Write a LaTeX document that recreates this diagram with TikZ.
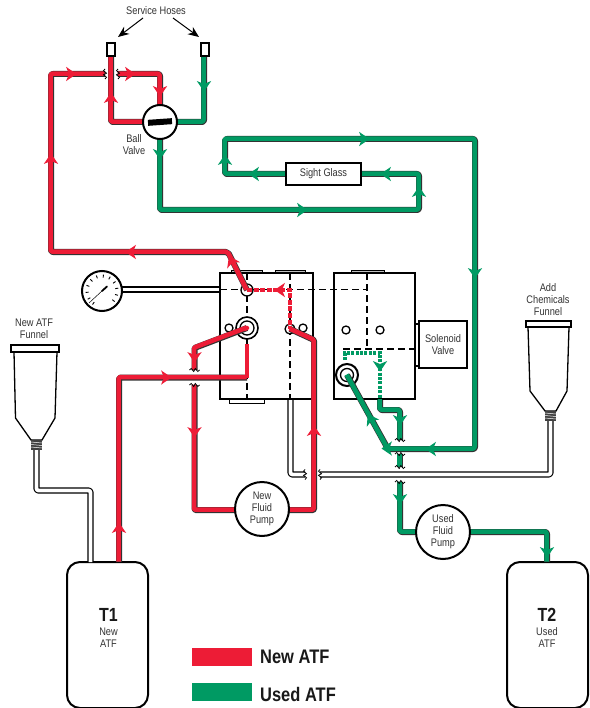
\documentclass[tikz,border=0pt]{standalone}
\usepackage{fontspec}
\setmainfont[FakeStretch=0.84]{Liberation Sans}
\usetikzlibrary{arrows.meta,calc}
\definecolor{newatf}{HTML}{ED1C36}
\definecolor{usedatf}{HTML}{009A63}
\definecolor{labelgray}{HTML}{333333}
\tikzset{
  redoutline/.style={line width=6pt,draw=black!80,line join=round},
  pipeline/.style={line width=4.6pt,line join=round},
  redpipe/.style={pipeline,draw=newatf},
  greenpipe/.style={pipeline,draw=usedatf},
  hoseline/.style={line width=6.2pt,draw=black,line join=round},
  hosefill/.style={line width=3.8pt,draw=white,line join=round},
  thinblack/.style={draw=black,line width=1.3pt},
  heavy/.style={draw=black,line width=2pt,fill=white},
  dashline/.style={draw=black,line width=1.3pt,dash pattern=on 7pt off 4pt},
  reddots/.style={draw=newatf,line width=4pt,dash pattern=on 5pt off 1.6pt},
  greendots/.style={draw=usedatf,line width=3.6pt,dash pattern=on 3pt off 1.4pt},
  lbl/.style={font=\fontsize{11}{12}\selectfont,text=labelgray,align=center,inner sep=0pt},
  tabbox/.style={draw=black,line width=.8pt,fill=black!25},
}
\newcommand{\rpipe}[1]{\draw[redoutline] #1; \draw[redpipe,transform canvas={xshift=-.4pt,yshift=.4pt}] #1;}
\newcommand{\gpipe}[1]{\draw[redoutline] #1; \draw[greenpipe,transform canvas={xshift=-.4pt,yshift=.4pt}] #1;}
\newcommand{\hose}[1]{\draw[hoseline] #1; \draw[hosefill] #1;}
% arrow head: at position, direction (clockwise on the page, 0 = right), colour
\newcommand{\flow}[4]{\fill[#4,shift={(#1,#2)},rotate=-#3] (4.5,0) -- (-6,7.2) -- (-3,0) -- (-6,-7.2) -- cycle;}
% break squiggle across a pipe
\newcommand{\wigh}[2]{\draw[black,line width=.8pt,shift={(#1,#2)}] (-5,0) .. controls (-3.5,-2) and (-3,-2) .. (-2,0) .. controls (-1,2) and (-.5,2) .. (0,0) .. controls (.5,-2) and (1,-2) .. (2,0) .. controls (3,2) and (3.5,2) .. (5,0);}
\newcommand{\wigv}[2]{\draw[black,line width=.8pt,shift={(#1,#2)}] (0,-5) .. controls (-2,-3.5) and (-2,-3) .. (0,-2) .. controls (2,-1) and (2,-.5) .. (0,0) .. controls (-2,.5) and (-2,1) .. (0,2) .. controls (2,3) and (2,3.5) .. (0,5);}
\begin{document}
\begin{tikzpicture}[x=1pt,y=-1pt]
\useasboundingbox (0,0) rectangle (589,708);
% --- tanks, blocks
\node[heavy,rounded corners=13pt,minimum width=81pt,minimum height=146pt,inner sep=0pt] (tankone) at (107.5,635) {};
\node[heavy,rounded corners=13pt,minimum width=81pt,minimum height=146pt,inner sep=0pt] (tanktwo) at (547.5,635) {};
\node[font=\bfseries\fontsize{19}{19}\selectfont,inner sep=0pt,text=black!90] (tonelbl) at (108.5,615) {T1};
\node[lbl] (tonesub) at (108.5,637.5) {New\\ATF};
\node[font=\bfseries\fontsize{19}{19}\selectfont,inner sep=0pt,text=black!90] (ttwolbl) at (547,615) {T2};
\node[lbl] (ttwosub) at (547,637.5) {Used\\ATF};
% tabs
\draw[tabbox] (231,270) rectangle (262,273);
\draw[tabbox] (275,270) rectangle (305,273);
\draw[tabbox,fill=white] (229.5,399) rectangle (264,403);
\draw[tabbox] (351,270) rectangle (384,273);
% hoses (white)
\coordinate (gaugeR) at (122,289.5);
\coordinate (blockL) at (220,289.5);
\coordinate (lfneck) at (36.5,450);
\coordinate (lfbend) at (36.5,490.5);
\coordinate (ltbend) at (90.5,490.5);
\coordinate (ltank) at (90.5,562);
\coordinate (dsv) at (290.5,399);
\coordinate (dsb) at (290.5,474.5);
\coordinate (dse) at (305,474.5);
\coordinate (rfs) at (320,474.5);
\coordinate (rfb) at (550.5,474.5);
\coordinate (rfneck) at (550.5,421);
\hose{(gaugeR) -- (blockL)}
\hose{[rounded corners=2pt] (lfneck) -- (lfbend) -- (ltbend) -- (ltank)}
\hose{[rounded corners=2pt] (dsv) -- (dsb) -- (dse)}
\hose{[rounded corners=2pt] (rfs) -- (rfb) -- (rfneck)}
\wigv{305}{474.5}
\wigv{320}{474.5}
% block 1 and 2
\draw[heavy,line width=2.2pt] (220,273) rectangle (313,399);
\node[inner sep=0pt] (blockone) at (266.5,336) {};
\draw[heavy,line width=2.2pt] (334,273) rectangle (415,399);
\node[inner sep=0pt] (blocktwo) at (374.5,336) {};
% dashed internals
\draw[dashline] (220,289.5) -- (367,289.5);
\draw[dashline] (247,273) -- (247,399);
\draw[dashline] (290,273) -- (290,399);
\draw[dashline] (367,273) -- (367,349);
\draw[dashline] (343,349) -- (415,349);
% small circles
\draw[thinblack,fill=white] (229,328) circle (4);
\draw[thinblack,fill=white] (303,328) circle (4);
\draw[thinblack,fill=white] (346,330) circle (4);
\draw[thinblack,fill=white] (380,330) circle (4);
\draw[thinblack,fill=white] (247,290) circle (6);
\draw[thinblack,fill=white] (290,329) circle (5);
\draw[heavy,line width=1.6pt] (247,328) circle (11);
\draw[thinblack] (247,328) circle (7);
\draw[heavy,line width=2pt] (347,375) circle (11);
\draw[thinblack] (347,375) circle (6.5);
% solenoid
\draw[thinblack,line width=1.6pt,fill=white] (415,324) rectangle (419,366);
\node[heavy,minimum width=48pt,minimum height=47pt,inner sep=0pt,lbl,line width=2pt] (solenoid) at (443,344.5) {Solenoid\\Valve};
% --- named junctions of the red circuit
\coordinate (rcapL) at (111,56);
\coordinate (rcor) at (111,122);
\coordinate (valveTop) at (160,105);
\coordinate (rtopR) at (160,74);
\coordinate (brkR) at (118,74);
\coordinate (brkL) at (105,74);
\coordinate (rtopL) at (51,74);
\coordinate (rlow) at (51,252);
\coordinate (rmid) at (228,252);
\coordinate (portA) at (247,290);
\coordinate (rturn) at (290,290);
\coordinate (portB) at (290,329);
\coordinate (rdiag) at (314,340);
\coordinate (rbot) at (314,510);
\coordinate (lbot) at (194.5,510);
\coordinate (lbrk) at (194.5,385);
\coordinate (ubrk) at (194.5,370);
\coordinate (ubend) at (194.5,348);
\coordinate (portC) at (247,328);
\coordinate (tone) at (119,562);
\coordinate (tonec) at (119,377.5);
\coordinate (tin) at (247,377.5);
\coordinate (tinend) at (247,344);
% red pipes
\rpipe{[rounded corners=2pt] (rcapL) -- (rcor) -- (160,122)}
\rpipe{[rounded corners=2pt] (brkR) -- (rtopR) -- (valveTop)}
\rpipe{[rounded corners=2pt] (brkL) -- (rtopL) -- (rlow) -- (rmid) -- (portA)}
\rpipe{[rounded corners=1pt] (portB) -- (rdiag) -- (rbot) -- (lbot) -- (lbrk)}
\rpipe{[rounded corners=1pt] (portC) -- (ubend) -- (ubrk)}
\rpipe{[rounded corners=2pt] (tone) -- (tonec) -- (tin)}
\draw[newatf,line width=4.4pt] (tin) -- (tinend);
\draw[newatf,line width=4.4pt,line cap=round] (portC) -- ++(-3,1.2);
\draw[reddots] (portA) -- (rturn) -- (portB);
\wigv{105}{74}\wigv{118}{74}
\wigh{194.5}{370}\wigh{194.5}{385}
% --- green circuit junctions
\coordinate (gcap) at (204,56);
\coordinate (gcor) at (204,122);
\coordinate (vbot) at (160,139);
\coordinate (g1) at (160,210);
\coordinate (g2) at (419,210);
\coordinate (g3) at (419,174);
\coordinate (sgl) at (225,174);
\coordinate (g5) at (225,139);
\coordinate (g6) at (475,139);
\coordinate (g7) at (475,449);
\coordinate (g8) at (388,449);
\coordinate (portD) at (347,375);
\coordinate (gd1) at (345,360);
\coordinate (gd2) at (345,353);
\coordinate (gd3) at (380,353);
\coordinate (gd4) at (380,400);
\coordinate (gs1) at (380,410);
\coordinate (gs2) at (400,410);
\coordinate (gs3) at (400,440);
\coordinate (gm1) at (400,454);
\coordinate (gm2) at (400,467);
\coordinate (gl1) at (400,482);
\coordinate (gl2) at (400,532);
\coordinate (gr1) at (547,532);
\coordinate (gr2) at (547,562);
% green pipes
\gpipe{[rounded corners=2pt] (gcap) -- (gcor) -- (160,122)}
\gpipe{[rounded corners=2pt] (vbot) -- (g1) -- (g2) -- (g3) -- (361,174)}
\gpipe{[rounded corners=2pt] (286,174) -- (sgl) -- (g5) -- (g6) -- (g7) -- (g8) -- (portD)}
\gpipe{[rounded corners=2pt] (gd4) -- (gs1) -- (gs2) -- (gs3)}
\gpipe{(gm1) -- (gm2)}
\gpipe{[rounded corners=2pt] (gl1) -- (gl2) -- (443,532)}
\gpipe{[rounded corners=2pt] (443,532) -- (gr1) -- (gr2)}
\draw[greendots] (gd1) -- (gd2) -- (gd3) -- (gd4);
\wigh{400}{440}\wigh{400}{454}\wigh{400}{467}\wigh{400}{482}
% gauge
\node[heavy,circle,minimum size=40pt,inner sep=0pt] (gauge) at (102,291) {};
\foreach \a in {125,150,...,415} {\draw[black,line width=.9pt] ($(102,291)+(\a:16.5)$) -- ($(102,291)+(\a:13.5)$);}
\draw[black,line width=.5pt] (89,303) -- (103,290);
\draw[black,line width=1.8pt,line cap=round] (102,291) -- (107,286.5);
% valve
\node[heavy,circle,minimum size=34pt,inner sep=0pt] (valve) at (160,122) {};
\fill[black,rotate around={4:(160,122)}] (148,119) rectangle (172,125);
% hose caps
\node[draw=black,line width=1.1pt,fill=white,minimum width=8pt,minimum height=13pt,inner sep=0pt] (capL) at (111,49.5) {};
\node[draw=black,line width=1.1pt,fill=white,minimum width=8pt,minimum height=13pt,inner sep=0pt] (capR) at (205,49.5) {};
% service hoses
\node[lbl] (svc) at (156,11) {Service Hoses};
\coordinate (svcL) at (143,18);
\coordinate (svcR) at (173,18);
\coordinate (tgtL) at (118,37);
\coordinate (tgtR) at (199,37);
\draw[black,line width=1pt,-{Stealth[length=11pt,width=9pt]}] (svcL) -- (tgtL);
\draw[black,line width=1pt,-{Stealth[length=11pt,width=9pt]}] (svcR) -- (tgtR);
\node[lbl] (ballv) at (134,145) {Ball\\Valve};
% sight glass
\node[draw=black,line width=1.2pt,fill=white,minimum width=75pt,minimum height=22pt,inner sep=0pt,lbl] (sight) at (323.5,174) {Sight Glass};
% pumps
\node[heavy,circle,minimum size=54pt,inner sep=0pt,lbl] (newpump) at (262,509) {New\\Fluid\\Pump};
\node[heavy,circle,minimum size=54pt,inner sep=0pt,lbl] (usedpump) at (443,532) {Used\\Fluid\\Pump};
% funnels
\draw[thinblack,fill=white,line join=round] (14,352) -- (15.5,418) -- (31,440) -- (42,440) -- (55,418) -- (57,352) -- cycle;
\draw[thinblack,fill=white] (11,345) rectangle (59,352);
\fill[black!75] (31,440) rectangle (42,450);
\foreach \yy in {442,444.5,447} {\draw[white,line width=.5pt] (31,\yy) -- (42,\yy+1);}
\draw[thinblack,fill=white,line join=round] (528,327) -- (530,391) -- (545,411) -- (556,411) -- (567,391) -- (569,327) -- cycle;
\draw[thinblack,fill=white] (526,321) rectangle (571,327);
\fill[black!75] (545,411) rectangle (556,421);
\foreach \yy in {413,415.5,418} {\draw[white,line width=.5pt] (545,\yy) -- (556,\yy+1);}
\node[lbl] (lfun) at (34,329) {New ATF\\Funnel};
\node[lbl] (rfun) at (548,299.5) {Add\\Chemicals\\Funnel};
% flow arrows
\flow{51}{158}{-90}{newatf}
\flow{72}{74}{0}{newatf}
\flow{131}{74}{0}{newatf}
\flow{160}{92}{90}{newatf}
\flow{111}{97}{-90}{newatf}
\flow{130}{252}{180}{newatf}
\flow{231}{260}{-116}{newatf}
\flow{279}{290}{180}{newatf}
\flow{194.5}{358}{90}{newatf}
\flow{194.5}{433}{90}{newatf}
\flow{314}{430}{-90}{newatf}
\flow{167}{377.5}{0}{newatf}
\flow{119}{527}{-90}{newatf}
\flow{204}{87}{90}{usedatf}
\flow{160}{155}{90}{usedatf}
\flow{303}{210}{0}{usedatf}
\flow{419}{191}{-90}{usedatf}
\flow{385}{174}{180}{usedatf}
\flow{253}{174}{180}{usedatf}
\flow{225}{159}{-90}{usedatf}
\flow{365}{139}{0}{usedatf}
\flow{475}{274}{90}{usedatf}
\flow{430}{449}{180}{usedatf}
\flow{386}{448.5}{180}{usedatf}
\flow{370}{418}{-120}{usedatf}
\flow{380}{367}{90}{usedatf}
\flow{400}{421}{90}{usedatf}
\flow{400}{500}{90}{usedatf}
\flow{547}{553}{90}{usedatf}
% legend
\node[fill=newatf,minimum width=60pt,minimum height=18pt,inner sep=0pt] (legnew) at (222,657) {};
\node[font=\bfseries\fontsize{19.6}{20}\selectfont,anchor=west,inner sep=0pt,text=black!90] (legnewt) at (260,657) {New ATF};
\node[fill=usedatf,minimum width=60pt,minimum height=18pt,inner sep=0pt] (legused) at (222,692) {};
\node[font=\bfseries\fontsize{19.6}{20}\selectfont,anchor=west,inner sep=0pt,text=black!90] (legusedt) at (260,694) {Used ATF};
\end{tikzpicture}
\end{document}
